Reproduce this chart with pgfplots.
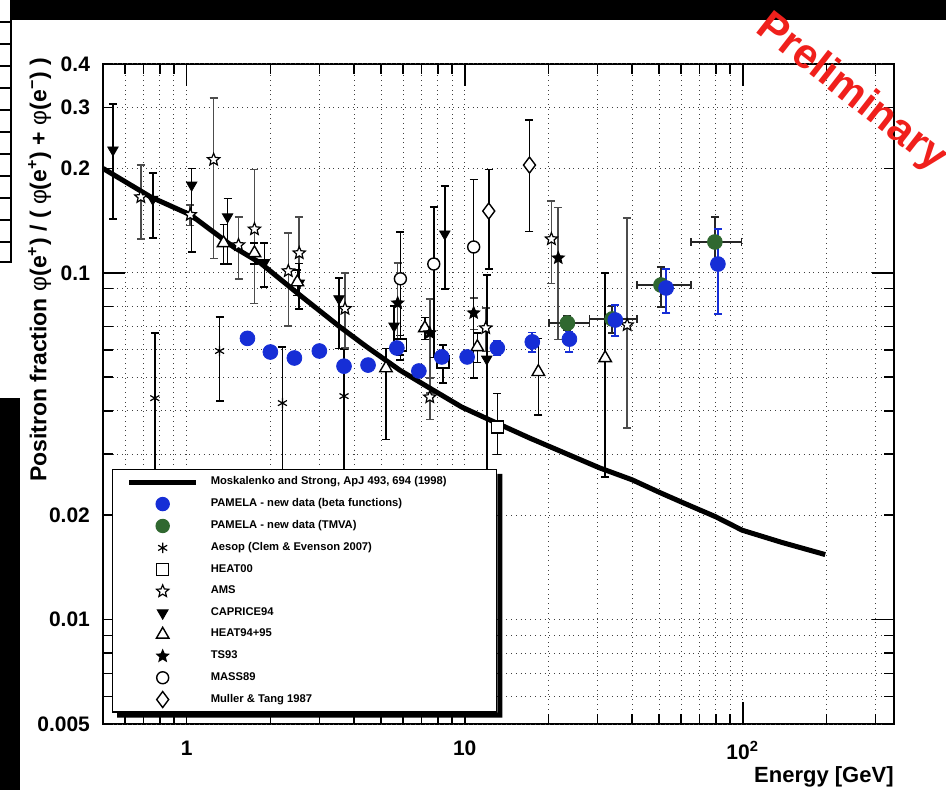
\documentclass[border=0pt]{standalone}
\usepackage{fontspec}
\setmainfont{Liberation Sans}
\usepackage{pgfplots}
\pgfplotsset{compat=1.18}
\usetikzlibrary{plotmarks}

\definecolor{pamblue}{RGB}{22,46,214}
\definecolor{pamgreen}{RGB}{48,104,48}
\definecolor{prelred}{RGB}{240,32,28}

% five pointed star, filled with the current fill colour
\pgfdeclareplotmark{rstar}{%
  \pgfpathmoveto{\pgfqpointpolar{90}{\pgfplotmarksize}}%
  \pgfpathlineto{\pgfqpointpolar{126}{0.45\pgfplotmarksize}}%
  \pgfpathlineto{\pgfqpointpolar{162}{\pgfplotmarksize}}%
  \pgfpathlineto{\pgfqpointpolar{198}{0.45\pgfplotmarksize}}%
  \pgfpathlineto{\pgfqpointpolar{234}{\pgfplotmarksize}}%
  \pgfpathlineto{\pgfqpointpolar{270}{0.45\pgfplotmarksize}}%
  \pgfpathlineto{\pgfqpointpolar{306}{\pgfplotmarksize}}%
  \pgfpathlineto{\pgfqpointpolar{342}{0.45\pgfplotmarksize}}%
  \pgfpathlineto{\pgfqpointpolar{18}{\pgfplotmarksize}}%
  \pgfpathlineto{\pgfqpointpolar{54}{0.45\pgfplotmarksize}}%
  \pgfpathclose
  \pgfusepathqfillstroke}

\pgfplotsset{
  ebar/.style={
    /pgfplots/error bars/y dir=both,
    /pgfplots/error bars/y explicit,
    /pgfplots/error bars/error bar style={line width=0.8pt,#1},
    /pgfplots/error bars/error mark options={rotate=90,mark size=2pt,line width=0.8pt,#1}},
  markleg/.style={legend image code/.code={%
    \pgfpathrectangle{\pgfpoint{-0.29cm}{-4.2pt}}{\pgfpoint{1.18cm}{8.4pt}}\pgfusepath{}%
    \draw[##1] plot coordinates {(0.3cm,0cm)};}},
  lineleg/.style={legend image code/.code={%
    \pgfpathrectangle{\pgfpoint{-0.29cm}{-4.2pt}}{\pgfpoint{1.18cm}{8.4pt}}\pgfusepath{}%
    \draw[##1] (-0.29cm,0cm) -- (0.89cm,0cm);}},
}

\begin{document}
\begin{tikzpicture}
\useasboundingbox (-51.5pt,-33pt) rectangle (421.5pt,362pt);
\begin{axis}[
  at={(0pt,0pt)}, anchor=south west,
  scale only axis, width=395.5pt, height=330pt,
  xmode=log, ymode=log,
  xmin=0.5, xmax=350, ymin=0.005, ymax=0.4,
  axis line style={line width=1pt},
  tick pos=both, tick align=inside,
  major tick length=11pt, minor tick length=5pt,
  tick style={black, line width=0.8pt},
  xtick={1,10,100}, xticklabels={1,10,\mbox{10\textsuperscript{2}}},
  minor xtick={0.6,0.7,0.8,0.9,2,3,4,5,6,7,8,9,20,30,40,50,60,70,80,90,200,300},
  ytick={0.01,0.1}, yticklabels={0.01,0.1},
  extra y ticks={0.005,0.02,0.2,0.3,0.4},
  extra y tick labels={0.005,0.02,0.2,0.3,0.4},
  extra y tick style={major tick length=5pt, grid=major},
  minor ytick={0.006,0.007,0.008,0.009,0.03,0.04,0.05,0.06,0.07,0.08,0.09},
  grid=both,
  major grid style={black!75, dotted, line width=0.5pt},
  minor grid style={black!75, dotted, line width=0.5pt},
  tick label style={font=\fontsize{10.5}{12}\selectfont\bfseries},
  xticklabel style={yshift=-5pt},
  yticklabel style={xshift=-3pt},
  xlabel={Energy [GeV]},
  xlabel style={at={(axis description cs:1,-0.088)}, anchor=base east,
    font=\fontsize{11}{13}\selectfont\bfseries, inner sep=0pt},
  ylabel={Positron fraction {\mdseries φ}(e\textsuperscript{+}) / ( {\mdseries φ}(e\textsuperscript{+}) + {\mdseries φ}(e\textsuperscript{−}) )},
  ylabel style={at={(axis description cs:-0.08,1.01)}, anchor=east,
    font=\fontsize{11.5}{13}\selectfont\bfseries, inner sep=0pt},
  markleg,
  legend style={name=leg, at={(axis description cs:0.0114,0.3864)}, anchor=north west,
    draw=black, line width=0.6pt, fill=white,
    font=\fontsize{5.6}{6.5}\selectfont\bfseries,
    inner xsep=7pt, inner ysep=1.5pt, row sep=1.4pt,
    cells={anchor=west, inner ysep=0.5pt},
    /tikz/every odd column/.append style={column sep=4pt}},
]

% legend entries
\addlegendimage{black, line width=2.5pt, lineleg}
\addlegendentry{\makebox[134pt][l]{Moskalenko and Strong, ApJ 493, 694 (1998)}}
\addlegendimage{only marks, mark=*, mark size=3.3pt, draw=pamblue, fill=pamblue}
\addlegendentry{PAMELA - new data (beta functions)}
\addlegendimage{only marks, mark=*, mark size=3.3pt, draw=pamgreen, fill=pamgreen}
\addlegendentry{PAMELA - new data (TMVA)}
\addlegendimage{only marks, mark=asterisk, mark size=2.6pt, black, line width=0.6pt}
\addlegendentry{Aesop (Clem \& Evenson 2007)}
\addlegendimage{only marks, mark=square*, mark size=3pt, draw=black, fill=white, line width=0.7pt}
\addlegendentry{HEAT00}
\addlegendimage{only marks, mark=rstar, mark size=3.2pt, draw=black, fill=white, line width=0.6pt}
\addlegendentry{AMS}
\addlegendimage{only marks, mark=triangle*, mark size=3pt, draw=black, fill=black, mark options={rotate=180}}
\addlegendentry{CAPRICE94}
\addlegendimage{only marks, mark=triangle*, mark size=3.6pt, draw=black, fill=white, line width=0.7pt}
\addlegendentry{HEAT94+95}
\addlegendimage{only marks, mark=rstar, mark size=3pt, draw=black, fill=black, line width=0.6pt}
\addlegendentry{TS93}
\addlegendimage{only marks, mark=*, mark size=3pt, draw=black, fill=white, line width=0.7pt}
\addlegendentry{MASS89}
\addlegendimage{only marks, mark=diamond*, mark size=4pt, draw=black, fill=white, line width=0.7pt}
\addlegendentry{Muller \& Tang 1987}

% Aesop
\addplot[forget plot, only marks, mark=asterisk, mark size=2.6pt, black, line width=0.6pt, ebar=black]
  coordinates {
  (0.768,0.0435) += (0,0.0236) -= (0,0.0235)
  (1.313,0.0595) += (0,0.0151) -= (0,0.0168)
  (2.21,0.0421) += (0,0.019) -= (0,0.022)
  (3.68,0.0441) += (0,0.016) -= (0,0.024)
  };
% HEAT00
\addplot[forget plot, only marks, mark=square*, mark size=3pt, draw=black, fill=white, line width=0.7pt, ebar=black]
  coordinates {
  (5.87,0.0619) +- (0,0.004)
  (8.34,0.0553) += (0,0.0066) -= (0,0.0072)
  (13.1,0.0359) += (0,0.009) -= (0,0.006)
  };
% AMS
\addplot[forget plot, only marks, mark=rstar, mark size=3.2pt, draw=black, fill=white, line width=0.6pt, ebar=black!70]
  coordinates {
  (0.684,0.1654) += (0,0.039) -= (0,0.040)
  (1.03,0.147) +- (0,0.01)
  (1.25,0.2119) += (0,0.107) -= (0,0.102)
  (1.536,0.1203) += (0,0.0245) -= (0,0.0242)
  (1.753,0.1336) += (0,0.065) -= (0,0.052)
  (2.32,0.1012) += (0,0.029) -= (0,0.031)
  (2.54,0.114) += (0,0.031) -= (0,0.035)
  (3.71,0.0788) += (0,0.021) -= (0,0.018)
  (7.49,0.0438) +- (0,0.006)
  (11.9,0.0693) +- (0,0.01)
  (20.5,0.1251) += (0,0.036) -= (0,0.032)
  (38.4,0.0707) += (0,0.073) -= (0,0.035)
  };
% CAPRICE94
\addplot[forget plot, only marks, mark=triangle*, mark size=3pt, black, mark options={rotate=180}, ebar=black]
  coordinates {
  (0.543,0.226) += (0,0.081) -= (0,0.083)
  (0.755,0.163) += (0,0.031) -= (0,0.037)
  (1.042,0.179) += (0,0.021) -= (0,0.064)
  (1.403,0.145) += (0,0.019) -= (0,0.039)
  (1.904,0.107) += (0,0.015) -= (0,0.016)
  (2.54,0.0934) += (0,0.013) -= (0,0.0146)
  (3.53,0.0842) += (0,0.0124) -= (0,0.0237)
  (5.57,0.0702) += (0,0.010) -= (0,0.008)
  (8.48,0.1294) += (0,0.0485) -= (0,0.0396)
  (12.0,0.0564) += (0,0.042) -= (0,0.034)
  };
% HEAT94+95
\addplot[forget plot, only marks, mark=triangle*, mark size=3.6pt, draw=black, fill=white, line width=0.7pt, ebar=black]
  coordinates {
  (1.357,0.1219) +- (0,0.016)
  (1.753,0.114) +- (0,0.008)
  (2.50,0.094) +- (0,0.008)
  (5.21,0.0531) += (0,0.0074) -= (0,0.020)
  (7.19,0.0693) +- (0,0.005)
  (11.1,0.0611) +- (0,0.006)
  (18.4,0.0518) +- (0,0.0129)
  (32.0,0.0568) += (0,0.043) -= (0,0.031)
  };
% TS93
\addplot[forget plot, only marks, mark=rstar, mark size=3pt, draw=black, fill=black, line width=0.6pt, ebar=black!70]
  coordinates {
  (5.74,0.0818) += (0,0.025) -= (0,0.02)
  (7.49,0.0671) += (0,0.017) -= (0,0.022)
  (10.77,0.0766) +- (0,0.008)
  (21.7,0.1103) += (0,0.044) -= (0,0.046)
  };
% MASS89
\addplot[forget plot, only marks, mark=*, mark size=3pt, draw=black, fill=white, line width=0.7pt, ebar=black]
  coordinates {
  (5.87,0.0961) += (0,0.035) -= (0,0.040)
  (7.74,0.106) += (0,0.049) -= (0,0.049)
  (10.77,0.1187) += (0,0.067) -= (0,0.069)
  };
% Muller & Tang 1987
\addplot[forget plot, only marks, mark=diamond*, mark size=4pt, draw=black, fill=white, line width=0.7pt, ebar=black]
  coordinates {
  (12.2,0.1507) +- (0,0.048)
  (17.1,0.2045) += (0,0.071) -= (0,0.073)
  };
% Moskalenko and Strong
\addplot[forget plot, black, line width=2.5pt, no markers, line join=round]
  coordinates {
  (0.5,0.200) (0.743,0.1654) (1.034,0.1468) (1.474,0.1187) (1.842,0.1067)
  (2.50,0.0874) (3.56,0.0698) (4.45,0.0611) (5.84,0.0524) (7.49,0.0465)
  (9.76,0.0410) (13.0,0.0369) (17.1,0.0334) (30.5,0.0274) (40.0,0.0253)
  (50.0,0.0233) (60.4,0.0218) (79.9,0.0198) (99.6,0.0181) (138,0.0167)
  (198,0.0154)
  };
% PAMELA TMVA
\addplot[forget plot, only marks, mark=*, mark size=3.7pt, draw=pamgreen, fill=pamgreen,
  error bars/x dir=both, error bars/x explicit, ebar=black!85]
  coordinates {
  (23.4,0.0716) += (4.7,0.0035) -= (3.3,0.0031)
  (33.9,0.0736) += (7.8,0.0067) -= (5.8,0.0065)
  (50.8,0.0922) += (14.2,0.0117) -= (9.1,0.0125)
  (79.4,0.1227) += (19.6,0.0221) -= (14.4,0.015)
  };
% PAMELA beta functions
\addplot[forget plot, only marks, mark=*, mark size=3.7pt, draw=pamblue, fill=pamblue, ebar=pamblue]
  coordinates {
  (1.654,0.0647) +- (0,0.002)
  (2.0,0.0591) +- (0,0.002)
  (2.44,0.0568) +- (0,0.002)
  (3.0,0.0595) +- (0,0.002)
  (3.68,0.0538) +- (0,0.002)
  (4.49,0.0542) +- (0,0.002)
  (5.70,0.0607) +- (0,0.002)
  (6.84,0.0521) +- (0,0.002)
  (8.27,0.0572) +- (0,0.002)
  (10.2,0.0572) +- (0,0.002)
  (13.1,0.0607) +- (0,0.003)
  (17.5,0.0632) +- (0,0.004)
  (23.8,0.0644) += (0,0.0033) -= (0,0.0053)
  (34.8,0.0731) += (0,0.0076) -= (0,0.0074)
  (53.0,0.0904) += (0,0.0122) -= (0,0.0138)
  (81.4,0.106) += (0,0.028) -= (0,0.030)
  };
\end{axis}

% shadow of the legend box (only the part outside the box)
\fill[black] ([yshift=-2.5pt]leg.north east) -- ([xshift=2.5pt,yshift=-2.5pt]leg.north east)
  -- ([xshift=2.5pt,yshift=-2.5pt]leg.south east) -- ([xshift=2.5pt,yshift=-2.5pt]leg.south west)
  -- ([xshift=2.5pt]leg.south west) -- (leg.south east) -- cycle;

% slide remnants around the figure and the watermark
\begin{scope}[shift={(-51.5pt,362pt)}, x=0.5pt, y=-0.5pt]
  \fill[black] (10,0) rectangle (946,20);
  \fill[black] (0,398) rectangle (20,790);
  \draw[line width=0.8pt] (11,0) -- (11,262) -- (0,262);
  \foreach \yy in {22,44,...,242} \draw[line width=0.8pt] (0,\yy) -- (11,\yy);
  \node[rotate=-38, text=prelred, font=\fontsize{21}{24}\selectfont\bfseries] at (851,93) {Preliminary};
\end{scope}
\end{tikzpicture}
\end{document}
